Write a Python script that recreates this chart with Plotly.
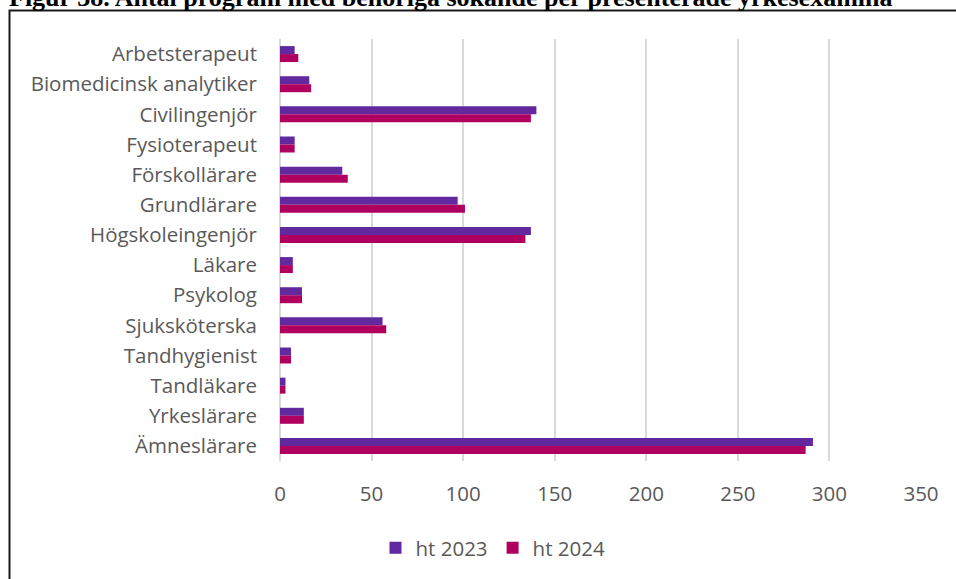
import plotly.graph_objects as go

# Yrkesexamina och antal program med behöriga sökande
categories = [
    "Arbetsterapeut", "Biomedicinsk analytiker", "Civilingenjör", "Fysioterapeut",
    "Förskollärare", "Grundlärare", "Högskoleingenjör", "Läkare", "Psykolog",
    "Sjuksköterska", "Tandhygienist", "Tandläkare", "Yrkeslärare", "Ämneslärare",
]
ht_2023 = [8, 16, 140, 8, 34, 97, 137, 7, 12, 56, 6, 3, 13, 291]
ht_2024 = [10, 17, 137, 8, 37, 101, 134, 7, 12, 58, 6, 3, 13, 287]
x_ticks = [0, 50, 100, 150, 200, 250, 300, 350]

title_text = "Figur 38. Antal program med behöriga sökande per presenterade yrkesexamina"

W, H = 956, 579
ML, MR, MT, MB = 280, 35, 39, 117
PW, PH = W - ML - MR, H - MT - MB

def px_x(px):
    return (px - ML) / PW

def px_y(py):
    return 1 - (py - MT) / PH

label_font = dict(family="'Open Sans', sans-serif", size=20.5, color="#595959")

fig = go.Figure()
fig.add_trace(go.Bar(
    y=categories, x=ht_2023, name="ht 2023", orientation="h",
    marker=dict(color="#62289E", line=dict(width=0)),
))
fig.add_trace(go.Bar(
    y=categories, x=ht_2024, name="ht 2024", orientation="h",
    marker=dict(color="#AF005F", line=dict(width=0)),
))

fig.update_layout(
    width=W, height=H,
    margin=dict(l=ML, r=MR, t=MT, b=MB, pad=0),
    paper_bgcolor="white", plot_bgcolor="white",
    barmode="group", bargap=0.47, bargroupgap=0,
    font=label_font,
    showlegend=True,
    legend=dict(
        orientation="h", x=px_x(493), y=px_y(548),
        xanchor="center", yanchor="middle",
        font=label_font, traceorder="normal",
        bgcolor="rgba(0,0,0,0)",
    ),
    xaxis=dict(
        range=[0, 350], tickvals=x_ticks, ticktext=[str(v) for v in x_ticks],
        showgrid=True, gridcolor="#D9D9D9", gridwidth=1.5,
        zeroline=True, zerolinecolor="#D9D9D9", zerolinewidth=1.5,
        showline=False, ticks="", tickfont=label_font, fixedrange=True,
        ticklabelstandoff=18,
    ),
    yaxis=dict(
        categoryorder="array", categoryarray=categories, autorange="reversed",
        showgrid=False, zeroline=False, showline=False, ticks="",
        tickfont=label_font, ticklabelstandoff=22,
    ),
)

# Figure caption, partly above the visible page edge
fig.add_annotation(
    text="<b>" + title_text + "</b>",
    xref="paper", yref="paper", x=px_x(7), y=px_y(14),
    xanchor="left", yanchor="bottom", showarrow=False,
    font=dict(family="'Liberation Serif', 'DejaVu Serif', serif", size=26, color="black"),
)

# Frame around the chart area
fig.add_shape(
    type="rect", xref="paper", yref="paper",
    x0=px_x(9.5), x1=px_x(990), y0=px_y(10.5), y1=px_y(620),
    line=dict(color="#1a1a1a", width=2), fillcolor="rgba(0,0,0,0)", layer="below",
)

fig.write_html("out.html")
